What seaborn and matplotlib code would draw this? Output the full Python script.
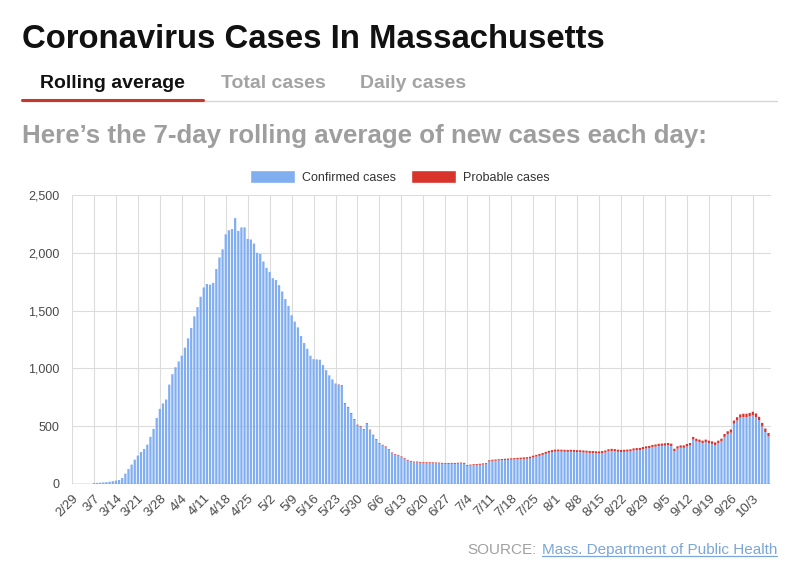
import matplotlib
matplotlib.use('Agg')
import matplotlib.pyplot as plt
import seaborn as sns
import numpy as np
import pandas as pd
from matplotlib.patches import Patch
from matplotlib.lines import Line2D

# 7-day rolling average of new cases, one value per day from 2/29 to 10/8
# (total = confirmed + probable)
total_feb = [0]
total_mar = [0, 0, 0, 0, 0, 0, 8, 10, 12, 14, 16, 20, 25, 30,
             35, 52, 90, 130, 168, 211, 246, 277, 303, 341, 408, 477, 572, 650, 697, 731, 860]
total_apr = [950, 1010, 1060, 1110, 1180, 1260, 1350, 1450, 1530, 1620,
             1700, 1730, 1725, 1740, 1860, 1960, 2030, 2160, 2195, 2205,
             2300, 2190, 2220, 2220, 2120, 2115, 2080, 2000, 1990, 1925]
total_may = [1870, 1835, 1780, 1765, 1720, 1665, 1600, 1540, 1460, 1405,
             1355, 1280, 1220, 1170, 1110, 1080, 1078, 1075, 1030, 985,
             940, 905, 870, 860, 855, 700, 667, 614, 562, 513, 499]
total_jun = [475, 528, 470, 426, 388, 354, 339, 325, 301, 272,
             258, 252, 238, 223, 209, 200, 194, 194, 191, 188,
             188, 188, 187, 186, 185, 183, 180, 182, 183, 182]
total_jul = [184, 185, 183, 163, 168, 171, 172, 175, 178, 180,
             205, 210, 212, 214, 216, 218, 220, 222, 224, 226,
             228, 230, 232, 236, 245, 252, 260, 268, 278, 287, 293]
total_aug = [297, 298, 297, 296, 295, 296, 295, 293, 292, 290,
             288, 286, 285, 283, 282, 285, 290, 300, 304, 302,
             297, 295, 296, 298, 300, 308, 311, 312, 320, 326, 330]
total_sep = [338, 342, 348, 350, 352, 355, 349, 305, 326, 334,
             334, 346, 355, 407, 392, 384, 375, 384, 375, 369,
             360, 375, 392, 433, 456, 471, 549, 578, 602, 608]
total_oct = [608, 615, 625, 610, 581, 529, 480, 442]

probable_feb = [0]
probable_mar = [0] * 31
probable_apr = [0] * 30
probable_may = [0] * 23 + [4, 5, 6, 6, 6, 6, 6, 6]
probable_jun = [6, 6, 6, 6, 6, 6, 6, 6, 6, 6,
                6, 6, 6, 6, 6, 7, 7, 7, 7, 7,
                7, 7, 7, 7, 7, 8, 8, 8, 8, 8]
probable_jul = [8, 8, 8, 8, 8, 9, 9, 9, 9, 9,
                10, 10, 10, 10, 10, 11, 11, 11, 12, 12,
                12, 13, 13, 14, 15, 15, 16, 16, 17, 17, 17]
probable_aug = [17, 17, 17, 17, 17, 17, 17, 17, 17, 17,
                17, 17, 17, 17, 17, 17, 17, 17, 18, 18,
                18, 18, 18, 18, 18, 18, 19, 19, 19, 19, 19]
probable_sep = [19, 19, 19, 20, 20, 20, 20, 20, 20, 20,
                21, 21, 21, 22, 22, 22, 22, 22, 22, 22,
                23, 23, 24, 25, 25, 26, 27, 28, 28, 29]
probable_oct = [29, 30, 30, 30, 30, 30, 30, 30]

tick_labels = ['2/29', '3/7', '3/14', '3/21', '3/28', '4/4', '4/11', '4/18', '4/25',
               '5/2', '5/9', '5/16', '5/23', '5/30', '6/6', '6/13', '6/20', '6/27',
               '7/4', '7/11', '7/18', '7/25', '8/1', '8/8', '8/15', '8/22', '8/29',
               '9/5', '9/12', '9/19', '9/26', '10/3']

total = np.array(total_feb + total_mar + total_apr + total_may + total_jun
                 + total_jul + total_aug + total_sep + total_oct)
probable = np.array(probable_feb + probable_mar + probable_apr + probable_may + probable_jun
                    + probable_jul + probable_aug + probable_sep + probable_oct)
confirmed = total - probable
day = np.arange(len(total))
df = pd.DataFrame({'day': day, 'confirmed': confirmed, 'probable': probable})

BLUE = '#80aef0'
RED = '#d9342b'
GRAY_TXT = '#4a4a4a'
BAR_W = 0.72

sns.set_style('white')
plt.rcParams['font.family'] = ['Liberation Sans', 'DejaVu Sans']

W, H = 796, 570
fig = plt.figure(figsize=(W / 100, H / 100), dpi=100)
ax = fig.add_axes([72 / W, 1 - 484 / H, (771 - 72) / W, (484 - 195) / H])

# confirmed cases with seaborn, probable stacked on top
sns.barplot(data=df, x='day', y='confirmed', color=BLUE, width=BAR_W, native_scale=True,
            errorbar=None, linewidth=0, saturation=1, ax=ax, zorder=3)
ax.bar(df['day'], df['probable'], bottom=df['confirmed'], width=BAR_W, color=RED,
       linewidth=0, zorder=3)
# keep every bar the same width instead of snapping to whole pixels
for p in ax.patches:
    p.set_snap(False)

ax.set_xlim(0, 222.8)
ax.set_ylim(0, 2500)
ax.set_yticks(range(0, 2501, 500))
ax.set_yticklabels([f'{v:,}' for v in range(0, 2501, 500)], color=GRAY_TXT, fontsize=9)
ax.set_xticks(np.arange(0, 7 * len(tick_labels), 7))
ax.set_xticklabels(tick_labels, rotation=45, ha='right', rotation_mode='anchor',
                   color=GRAY_TXT, fontsize=9.5)
ax.tick_params(axis='both', length=0)
ax.tick_params(axis='x', pad=6)
ax.tick_params(axis='y', pad=9)
ax.set_xlabel('')
ax.set_ylabel('')
ax.grid(True, color='#dcdcdc', linewidth=0.8, zorder=0)
ax.set_axisbelow(True)
for s in ax.spines.values():
    s.set_visible(False)
ax.axhline(0, color='#999999', linewidth=1, zorder=5)

# legend
handles = [Patch(facecolor=BLUE, label='Confirmed cases'),
           Patch(facecolor=RED, label='Probable cases')]
fig.legend(handles=handles, loc='center', bbox_to_anchor=(400 / W, 1 - 177 / H),
           ncol=2, frameon=False, fontsize=9, handlelength=3.6, handleheight=1.15,
           handletextpad=0.55, columnspacing=1.2, labelcolor='#333333')

# header texts
fig.text(22 / W, 1 - 48 / H, 'Coronavirus Cases In Massachusetts', fontsize=23.7,
         fontweight='bold', color='#111111', va='baseline')
fig.text(40 / W, 1 - 88 / H, 'Rolling average', fontsize=14, fontweight='bold',
         color='#111111', va='baseline')
fig.text(221 / W, 1 - 88 / H, 'Total cases', fontsize=14, fontweight='bold',
         color='#a3a3a3', va='baseline')
fig.text(360 / W, 1 - 88 / H, 'Daily cases', fontsize=14, fontweight='bold',
         color='#a3a3a3', va='baseline')
fig.add_artist(Line2D([22 / W, 777 / W], [1 - 101 / H] * 2, color='#d6d6d6', linewidth=1))
fig.add_artist(Line2D([22 / W, 203 / W], [1 - 100 / H] * 2, color='#c8372d', linewidth=2.2))
fig.text(22 / W, 1 - 143 / H, 'Here\u2019s the 7-day rolling average of new cases each day:',
         fontsize=18.6, fontweight='bold', color='#9e9e9e', va='baseline')

# source line
link = fig.text(777 / W, 1 - 554 / H, 'Mass. Department of Public Health', fontsize=11,
                color='#7ba6d8', ha='right', va='baseline')
fig.canvas.draw()
bb = link.get_window_extent(renderer=fig.canvas.get_renderer())
fig.text(bb.x0 / W - 5 / W, 1 - 554 / H, 'SOURCE:', fontsize=11, color='#a0a0a0',
         ha='right', va='baseline')
fig.add_artist(Line2D([bb.x0 / W, bb.x1 / W], [1 - 556 / H] * 2, color='#7ba6d8', linewidth=0.9))

fig.savefig('out.png', dpi=100)
